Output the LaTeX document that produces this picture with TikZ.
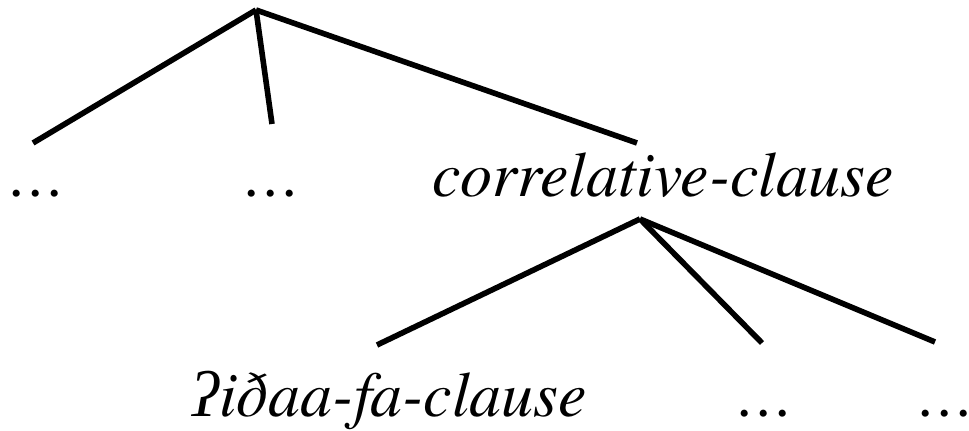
\documentclass[tikz,border=0pt]{standalone}
\usepackage{fontspec}
\setmainfont{texgyretermes}[Extension=.otf,UprightFont=*-regular,ItalicFont=*-italic]
\newfontfamily\ipafont{Liberation Serif}

\begin{document}
\begin{tikzpicture}[x=0.5pt,y=-0.5pt,
  branch/.style={line width=2.8pt},
  word/.style={anchor=base,inner sep=0pt,font=\fontsize{32}{36}\selectfont\itshape}]
  \useasboundingbox (0,0) rectangle (969,431);
  % upper tree
  \coordinate (top) at (256,10);
  \coordinate (topL) at (33,143);
  \coordinate (topM) at (272,124);
  \coordinate (topR) at (637,143);
  \draw[branch] (top) -- (topL);
  \draw[branch] (top) -- (topM);
  \draw[branch] (top) -- (topR);
  \node[word] (dotsA) at (38,197) {…};
  \node[word] (dotsB) at (273,197) {…};
  \node[word] (corr) at (663,197) {correlative-clause};
  % lower tree
  \coordinate (low) at (640,219);
  \coordinate (lowL) at (377,345);
  \coordinate (lowM) at (762,343);
  \coordinate (lowR) at (935,342);
  \draw[branch] (low) -- (lowL);
  \draw[branch] (low) -- (lowM);
  \draw[branch] (low) -- (lowR);
  \node[word] (idhaa) at (390,417) {{\ipafont ʔ}iðaa-fa-clause};
  \node[word] (dotsC) at (766,417) {…};
  \node[word] (dotsD) at (947,417) {…};
\end{tikzpicture}
\end{document}
